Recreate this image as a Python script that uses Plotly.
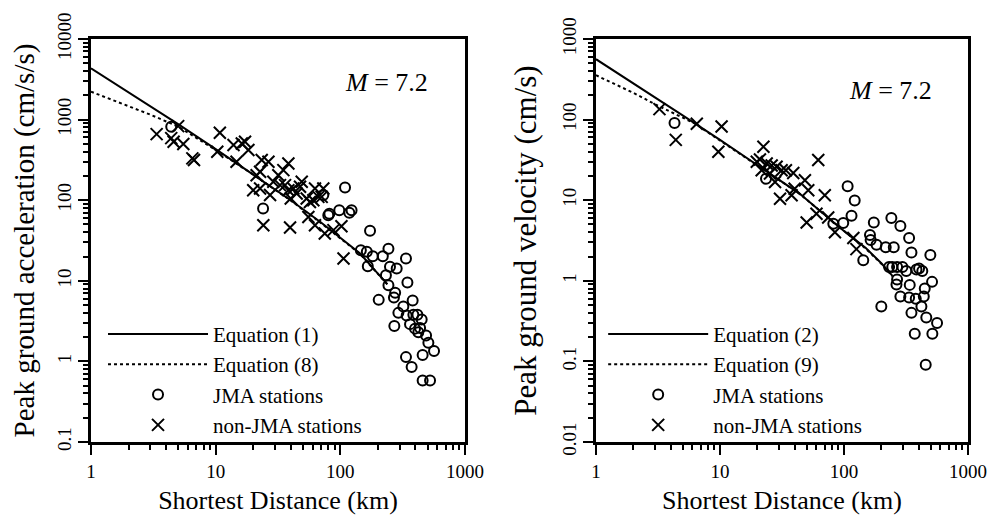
import plotly.graph_objects as go

# ---------------- data ----------------
X_TICKS = [1, 10, 100, 1000]
X_TICK_LABELS = ["1", "10", "100", "1000"]
PGA_TICKS = [0.1, 1, 10, 100, 1000, 10000]
PGA_TICK_LABELS = ["0.1", "1", "10", "100", "1000", "10000"]
PGV_TICKS = [0.01, 0.1, 1, 10, 100, 1000]
PGV_TICK_LABELS = ["0.01", "0.1", "1", "10", "100", "1000"]

# Left panel: peak ground acceleration
EQ1_DIST = [1, 2, 5, 10, 20, 40, 70, 100, 144, 200, 238]
EQ1_PGA = [4330, 2200, 880, 430, 210, 100, 53, 34, 21.8, 12.3, 9.1]
EQ8_DIST = [1, 2, 3, 5, 10, 20, 40, 70, 100, 144, 200, 238]
EQ8_PGA = [2220, 1460, 1150, 820, 420, 208, 99, 52, 33.5, 21.5, 12.2, 9.0]

PGA_JMA_DIST = [4.4, 24, 73, 80, 81.6, 98, 118, 123, 109, 173, 146, 163, 182, 219, 243,
                336, 166, 250, 283, 232, 345, 243, 203, 275, 269, 380, 320, 292, 340,
                385, 415, 449, 362, 397, 422, 436, 271, 487, 508, 564, 457, 336, 373,
                457, 524]
PGA_JMA_VAL = [815, 79, 116, 65, 68, 75, 70, 75, 144, 41.7, 24, 22.9, 20.2, 20.2, 25,
               18.9, 15.2, 14.9, 14.2, 11.7, 9.5, 8.8, 5.8, 7.1, 6.2, 5.7, 4.8, 4.0, 3.7,
               3.8, 3.8, 3.3, 2.9, 2.55, 2.3, 2.6, 2.75, 2.1, 1.7, 1.35, 1.2, 1.13, 0.85,
               0.58, 0.58]

PGA_NJ_DIST = [3.36, 4.4, 4.6, 5.0, 5.5, 6.5, 6.7, 10.8, 10.3, 13.9, 16.2, 18.3, 17.2,
               14.7, 23.4, 26.5, 38.3, 22.7, 21.3, 31.8, 29, 36, 49, 42, 44.6, 38.3, 20,
               22.7, 27.3, 62.6, 73, 66.6, 53.7, 57, 47.5, 55.4, 62.6, 75, 88, 102, 106,
               24.1, 39.5, 60.7, 34.9, 32.8, 40, 70.8]
PGA_NJ_VAL = [661, 589, 531, 830, 497, 330, 315, 687, 399, 483, 506, 419, 531,
              300, 315, 300, 286, 225, 204, 204, 169, 154, 169, 140, 121, 133, 133,
              140, 116, 140, 140, 110, 105, 95, 147, 62, 49, 38.6, 42.5, 47.6, 18.9,
              49, 45.8, 100, 236, 154, 105, 110]

# Right panel: peak ground velocity
EQ2_DIST = [1, 2, 5, 10, 20, 44, 75, 105, 150, 200, 246]
EQ2_PGV = [562, 283, 113, 56, 27, 12, 6.0, 3.9, 2.55, 1.65, 1.15]
EQ9_DIST = [1, 2, 3, 4.5, 6.3, 10, 20, 44, 75, 105, 150, 200, 246]
EQ9_PGV = [355, 215, 155, 115, 89, 55, 27, 12, 6.0, 3.9, 2.5, 1.63, 1.13]

PGV_JMA_DIST = [4.3, 23.5, 107, 122, 115, 82, 98.6, 143, 174, 162, 164, 183, 217, 252,
                241, 285, 335, 350, 497, 200, 231, 245, 268, 296, 318, 384, 403, 428,
                268, 265, 339, 285, 335, 379, 448, 440, 421, 350, 461, 513, 563, 372,
                516, 456]
PGV_JMA_VAL = [90.6, 18.5, 14.9, 9.9, 6.4, 5.1, 5.2, 1.8, 5.3, 3.7, 3.2, 2.8, 2.6, 2.6,
               6.0, 4.8, 3.4, 2.24, 2.09, 0.48, 1.48, 1.48, 1.48, 1.48, 1.32, 1.38, 1.42,
               1.32, 1.04, 0.9, 0.89, 0.64, 0.62, 0.6, 0.8, 0.64, 0.48, 0.40, 0.35, 0.97,
               0.30, 0.22, 0.22, 0.091]

PGV_NJ_DIST = [3.25, 4.4, 6.5, 10.3, 9.7, 22.4, 21, 19.8, 21.7, 23.8, 26.1, 28.6, 31.4,
               34, 39, 27.8, 30.5, 37.8, 40, 48.4, 51.5, 50, 62, 70, 60, 74.6, 84.5,
               119, 126, 25.3]
PGV_NJ_VAL = [135, 56, 89, 82, 40, 46, 32, 30, 23.5, 28.6, 27, 26, 23.5,
              23.5, 21.7, 16.8, 10.4, 11.5, 13.9, 17.7, 13.3, 5.3, 31.6, 11.5, 6.8, 6.1,
              4.0, 3.4, 2.47, 21.4]

# ---------------- styling ----------------
FONT = "Liberation Serif, Times New Roman, serif"
BLACK = "black"

fig = go.Figure()

def add_panel(xa, ya, legend, d1, v1, n1, d2, v2, n2, dj, vj, dn, vn):
    fig.add_trace(go.Scatter(x=d1, y=v1, mode="lines", name=n1,
                             line=dict(color=BLACK, width=2),
                             xaxis=xa, yaxis=ya, legend=legend))
    fig.add_trace(go.Scatter(x=d2, y=v2, mode="lines", name=n2,
                             line=dict(color=BLACK, width=2, dash="dot"),
                             xaxis=xa, yaxis=ya, legend=legend))
    fig.add_trace(go.Scatter(x=dj, y=vj, mode="markers", name="JMA stations",
                             marker=dict(symbol="circle-open", size=10, color=BLACK,
                                         line=dict(width=2, color=BLACK)),
                             xaxis=xa, yaxis=ya, legend=legend))
    fig.add_trace(go.Scatter(x=dn, y=vn, mode="markers", name="non-JMA stations",
                             marker=dict(symbol="x-thin-open", size=12, color=BLACK,
                                         line=dict(width=2, color=BLACK)),
                             xaxis=xa, yaxis=ya, legend=legend))

add_panel("x", "y", "legend", EQ1_DIST, EQ1_PGA, "Equation (1)",
          EQ8_DIST, EQ8_PGA, "Equation (8)",
          PGA_JMA_DIST, PGA_JMA_VAL, PGA_NJ_DIST, PGA_NJ_VAL)
add_panel("x2", "y2", "legend2", EQ2_DIST, EQ2_PGV, "Equation (2)",
          EQ9_DIST, EQ9_PGV, "Equation (9)",
          PGV_JMA_DIST, PGV_JMA_VAL, PGV_NJ_DIST, PGV_NJ_VAL)

def axis_common():
    return dict(
        type="log", showgrid=False, zeroline=False,
        showline=True, linecolor=BLACK, linewidth=2.5, mirror=True,
        ticks="outside", ticklen=10, tickwidth=2, tickcolor=BLACK,
        minor=dict(ticks="outside", ticklen=5, tickwidth=1.5, tickcolor=BLACK,
                   dtick="D1", showgrid=False),
        tickfont=dict(family=FONT, size=19, color=BLACK),
        automargin=False,
    )

xcommon = axis_common()
xcommon.update(range=[0, 3], tickmode="array", tickvals=X_TICKS, ticktext=X_TICK_LABELS,
               title=dict(text="Shortest Distance (km)",
                          font=dict(family=FONT, size=26, color=BLACK), standoff=12))

fig.update_layout(
    xaxis=dict(**xcommon, domain=[0, 0.4265], anchor="y"),
    xaxis2=dict(**xcommon, domain=[0.5758, 1], anchor="y2"),
)

ycommon = axis_common()
ycommon.update(tickangle=-90)
fig.update_layout(
    yaxis=dict(**ycommon, range=[-1, 4], domain=[0, 1], anchor="x",
               tickmode="array", tickvals=PGA_TICKS, ticktext=PGA_TICK_LABELS,
               title=dict(text="Peak ground acceleration (cm/s/s)",
                          font=dict(family=FONT, size=29, color=BLACK), standoff=14)),
    yaxis2=dict(**ycommon, range=[-2, 3], domain=[0, 1], anchor="x2",
                tickmode="array", tickvals=PGV_TICKS, ticktext=PGV_TICK_LABELS,
                title=dict(text="Peak ground velocity (cm/s)",
                           font=dict(family=FONT, size=31, color=BLACK), standoff=13)),
)

legend_style = dict(font=dict(family=FONT, size=21, color=BLACK), bgcolor="rgba(0,0,0,0)",
                    borderwidth=0, itemwidth=100, tracegroupgap=0,
                    xanchor="left", yanchor="top")
fig.update_layout(
    legend=dict(**legend_style, x=0.0137, y=0.318),
    legend2=dict(**legend_style, x=0.584, y=0.318),
)

for xr, yr, xx, yy in [("x domain", "y domain", 0.789, 0.891),
                       ("x2 domain", "y2 domain", 0.793, 0.871)]:
    fig.add_annotation(text="<i>M</i> = 7.2", xref=xr, yref=yr, x=xx, y=yy,
                       xanchor="center", yanchor="middle",
                       showarrow=False, font=dict(family=FONT, size=26, color=BLACK))

# the page body adds an 8 px offset, so the figure is sized to fit inside the window
fig.update_layout(
    width=981, height=507,
    margin=dict(l=83, r=21, t=31, b=73),
    paper_bgcolor="white", plot_bgcolor="white",
    showlegend=True,
)

fig.write_html("out.html")
